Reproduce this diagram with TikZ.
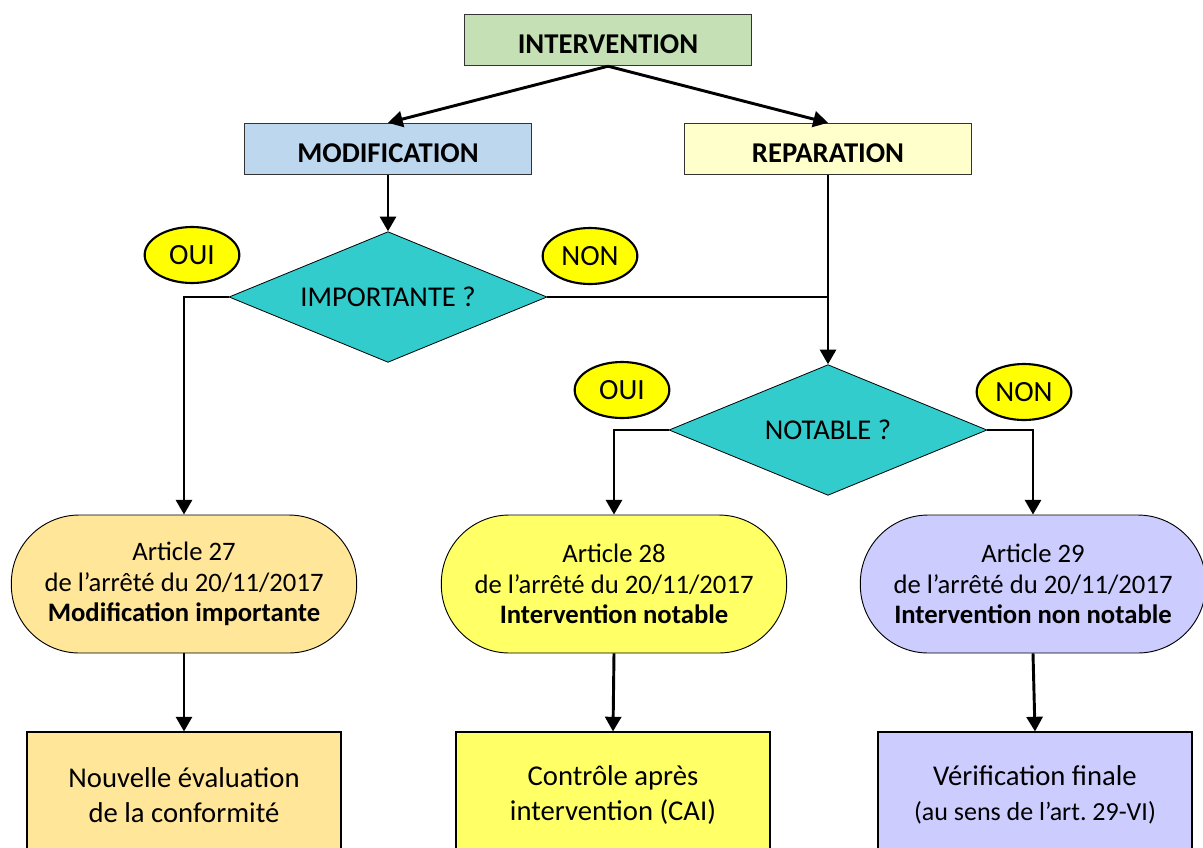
\documentclass[tikz,border=0pt]{standalone}
\usepackage{fontspec}
\setmainfont{Carlito}
\usepackage{tikz}
\usepackage{xcolor}
\usetikzlibrary{shapes.geometric,arrows.meta}
\definecolor{interfill}{HTML}{C5E0B4}
\definecolor{modiffill}{HTML}{BDD7EE}
\definecolor{repfill}{HTML}{FFFFCC}
\definecolor{questfill}{HTML}{33CCCC}
\definecolor{ansfill}{HTML}{FFFF00}
\definecolor{artA}{HTML}{FFE699}
\definecolor{artB}{HTML}{FFFF66}
\definecolor{artC}{HTML}{CCCCFF}

\begin{document}
\begin{tikzpicture}[x=0.75pt,y=-0.75pt,
  hdr/.style={draw=black!80, line width=0.8pt, minimum width=215pt, minimum height=38.5pt, text height=20pt, text depth=0pt, font=\fontsize{21.5}{25}\selectfont\bfseries},
  quest/.style={diamond, aspect=2.45, draw=black, line width=0.6pt, fill=questfill, minimum width=238.5pt, minimum height=98pt, inner sep=0pt, font=\fontsize{21.5}{25}\selectfont},
  answer/.style={ellipse, draw=black, line width=1.6pt, fill=ansfill, minimum width=71pt, minimum height=42pt, inner sep=0pt, font=\fontsize{22}{26}\selectfont},
  article/.style={draw=black, line width=0.7pt, rounded corners=51pt, minimum width=259pt, minimum height=103.5pt, align=center, font=\fontsize{20}{23}\selectfont},
  result/.style={draw=black, line width=1.3pt, minimum width=236pt, minimum height=94pt, align=center, font=\fontsize{21.5}{26}\selectfont},
  link/.style={line width=2.2pt, -{Triangle[length=11pt,width=12pt]}},
  joint/.style={line width=2.2pt}]
\useasboundingbox (0,0) rectangle (1203,847);
\clip (0,0) rectangle (1203,847);

\node[hdr, fill=interfill] (interv) at (608,40) {INTERVENTION};
\node[hdr, fill=modiffill] (modif) at (388,149) {MODIFICATION};
\node[hdr, fill=repfill] (repar) at (828,149) {REPARATION};

\node[quest] (imp) at (388,297) {IMPORTANTE ?};
\node[quest] (notab) at (828,430) {NOTABLE ?};

\node[answer] (oui1) at (192,255) {OUI};
\node[answer] (non1) at (590,256) {NON};
\node[answer] (oui2) at (622,390) {OUI};
\node[answer] (non2) at (1024,392) {NON};

\node[article, fill=artA] (art27) at (184,584) {Article 27\\de l’arrêté du 20/11/2017\\\textbf{Modification importante}};
\node[article, fill=artB] (art28) at (614,584) {Article 28\\de l’arrêté du 20/11/2017\\\textbf{Intervention notable}};
\node[article, fill=artC] (art29) at (1033,584) {Article 29\\de l’arrêté du 20/11/2017\\\textbf{Intervention non notable}};

\node[result, fill=artA] (eval) at (184,795) {Nouvelle évaluation\\de la conformité};
\node[result, fill=artB] (cai) at (613,795) {Contrôle après\\intervention (CAI)};
\node[result, fill=artC] (verif) at (1035,795) {Vérification finale\\{\fontsize{19.5}{24}\selectfont (au sens de l’art.\ 29-VI)}};

\coordinate (jn) at (imp.east -| repar.south);

\draw[link] (interv.south) -- (modif.north);
\draw[link] (interv.south) -- (repar.north);
\draw[link] (modif.south) -- (imp.north);
\draw[link] (repar.south) -- (notab.north);
\draw[joint] (imp.east) -- (jn);
\draw[link] (imp.west) -| (art27.north);
\draw[link] (notab.west) -| (art28.north);
\draw[link] (notab.east) -| (art29.north);
\draw[link] (art27.south) -- (eval.north);
\draw[link] (art28.south) -- (cai.north);
\draw[link] (art29.south) -- (verif.north);
\end{tikzpicture}
\end{document}
